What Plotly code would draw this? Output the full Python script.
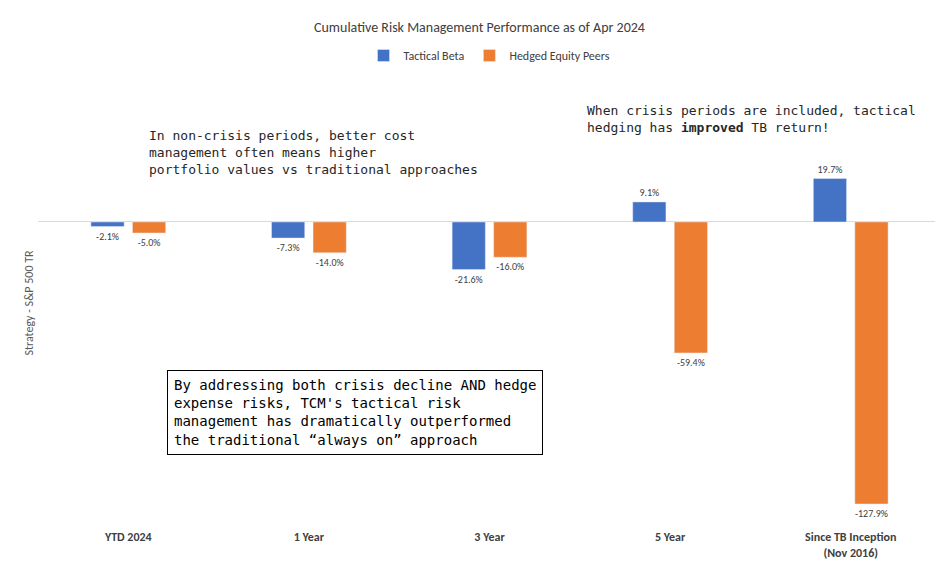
import plotly.graph_objects as go

categories = ["<b>YTD 2024</b>", "<b>1 Year</b>", "<b>3 Year</b>", "<b>5 Year</b>",
              "<b>Since TB Inception<br>(Nov 2016)</b>"]
tactical_beta = [-2.1, -7.3, -21.6, 9.1, 19.7]
hedged_peers = [-5.0, -14.0, -16.0, -59.4, -127.9]

hand = "DejaVu Sans Mono"

fig = go.Figure()
fig.add_trace(go.Bar(x=categories, y=tactical_beta, name="Tactical Beta",
                     marker_color="#4472C4",
                     text=["%.1f%%" % v for v in tactical_beta], textposition="outside",
                     textfont=dict(size=10, color="#404040"), cliponaxis=False))
fig.add_trace(go.Bar(x=categories, y=hedged_peers, name="Hedged Equity Peers",
                     marker_color="#ED7D31",
                     text=["%.1f%%" % v for v in hedged_peers], textposition="outside",
                     textfont=dict(size=10, color="#404040"), cliponaxis=False))

fig.update_layout(
    width=943, height=587,
    plot_bgcolor="white", paper_bgcolor="white",
    font=dict(family="Calibri, Carlito, Liberation Sans, sans-serif", color="#595959"),
    title=dict(text="Cumulative Risk Management Performance as of Apr 2024",
               x=0.5, y=0.975, xanchor="center", font=dict(size=14, color="#404040")),
    legend=dict(orientation="h", x=0.5, xanchor="center", y=1.05, yanchor="middle",
                font=dict(size=12, color="#404040")),
    barmode="group", bargap=0.54, bargroupgap=0.2,
    margin=dict(l=30, r=10, t=70, b=67),
    showlegend=True,
)
fig.update_xaxes(showline=False, ticks="", tickfont=dict(size=12, color="#404040"))
fig.update_yaxes(range=[-138.8, 65.3], showgrid=False, showticklabels=False,
                 zeroline=True, zerolinecolor="#D9D9D9", zerolinewidth=1,
                 title=dict(text="Strategy - S&P 500 TR", font=dict(size=12, color="#595959"),
                            standoff=0))

fig.add_annotation(xref="paper", yref="paper", x=0.305, y=0.893, xanchor="center", yanchor="top",
                   text="In non-crisis periods, better cost<br>management often means higher<br>portfolio values vs traditional approaches",
                   showarrow=False, align="left", font=dict(family=hand, size=13, color="#262626"))
fig.add_annotation(xref="paper", yref="paper", x=0.79, y=0.95, xanchor="center", yanchor="top",
                   text="When crisis periods are included, tactical<br>hedging has <b>improved</b> TB return!",
                   showarrow=False, align="left", font=dict(family=hand, size=13, color="#262626"))
fig.add_annotation(xref="paper", yref="paper", x=0.351, y=0.256, xanchor="center", yanchor="middle",
                   text="By addressing both crisis decline AND hedge<br>expense risks, TCM's tactical risk<br>management has dramatically outperformed<br>the traditional \u201calways on\u201d approach",
                   showarrow=False, align="left", bgcolor="white", bordercolor="black",
                   borderwidth=1, borderpad=6, font=dict(family=hand, size=14, color="black"))

fig.write_html("out.html")
